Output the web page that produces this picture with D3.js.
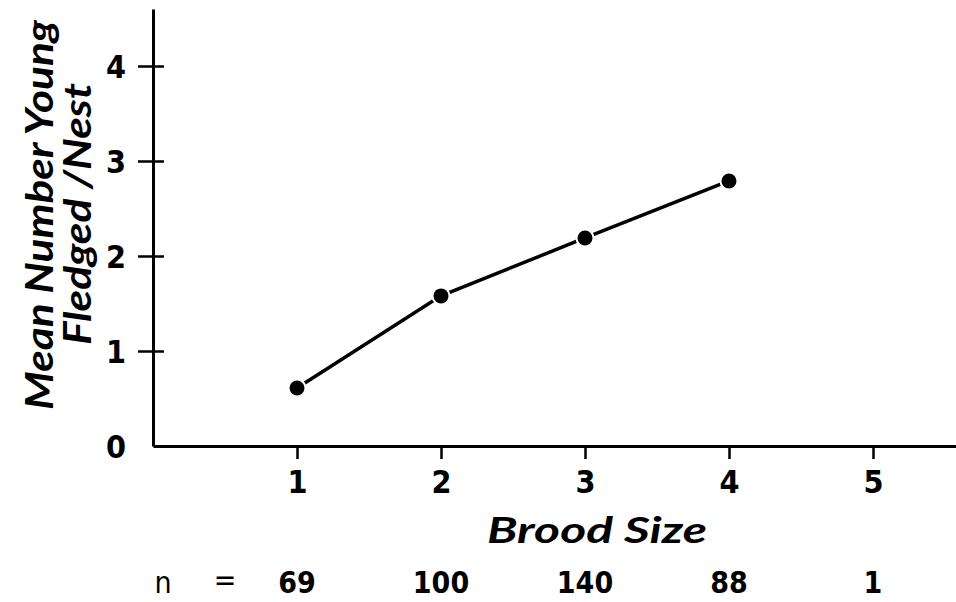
<!DOCTYPE html>
<html>
<head>
<meta charset="utf-8">
<script src="https://cdn.jsdelivr.net/npm/d3@7"></script>
<style>
  html, body { margin: 0; padding: 0; background: #fff; }
  svg { display: block; }
</style>
</head>
<body>
<svg id="chart" width="956" height="602"></svg>
<script>
// ---- Data ----
const broodSizes = [1, 2, 3, 4];
const meanFledged = [0.61, 1.58, 2.19, 2.79];
const xTickValues = [1, 2, 3, 4, 5];
const yTickValues = [0, 1, 2, 3, 4];
const sampleSizes = ["69", "100", "140", "88", "1"];
const xTitle = "Brood Size";
const yTitleLines = ["Mean Number Young", "Fledged /Nest"];

// ---- Layout ----
const svg = d3.select("#chart");
const font = "Lato, 'Open Sans', sans-serif";
const tickFont = "'Liberation Sans Narrow', 'DejaVu Sans Condensed', Lato, sans-serif";

const x = d3.scaleLinear().domain([0, 5.6]).range([153, 959.4]);
const y = d3.scaleLinear().domain([0, 4.6]).range([446, 9]);

// Y axis (cross ticks)
const yAxis = svg.append("g")
  .attr("transform", `translate(${x(0)},0)`)
  .call(d3.axisLeft(y).tickValues(yTickValues).tickSize(0).tickSizeOuter(0).tickFormat(d3.format("d")));
yAxis.select(".domain").attr("stroke", "#000").attr("stroke-width", 3);
yAxis.selectAll(".tick line").remove();
yAxis.selectAll(".tick")
  .filter(d => d !== 0)
  .append("line")
  .attr("x1", -15).attr("x2", 11)
  .attr("stroke", "#000").attr("stroke-width", 2.5);
yAxis.selectAll(".tick text")
  .attr("x", -27)
  .attr("dy", "0.36em")
  .attr("font-family", tickFont).attr("font-size", 32).attr("font-weight", 700)
  .attr("fill", "#000");

// X axis
const xAxis = svg.append("g")
  .attr("transform", `translate(0,${y(0)})`)
  .call(d3.axisBottom(x).tickValues(xTickValues).tickSize(13).tickSizeOuter(0).tickFormat(d3.format("d")));
xAxis.select(".domain").attr("stroke", "#000").attr("stroke-width", 3);
xAxis.selectAll(".tick line").attr("stroke", "#000").attr("stroke-width", 2.5);
xAxis.selectAll(".tick text")
  .attr("y", 47).attr("dy", null)
  .attr("font-family", tickFont).attr("font-size", 32).attr("font-weight", 700)
  .attr("fill", "#000");

// Line
const pts = broodSizes.map((b, i) => [x(b), y(meanFledged[i])]);
svg.append("path")
  .datum(pts)
  .attr("d", d3.line())
  .attr("fill", "none")
  .attr("stroke", "#000")
  .attr("stroke-width", 3.5);

// Dots with white halo (gap)
svg.selectAll("circle.pt")
  .data(pts)
  .join("circle")
  .attr("class", "pt")
  .attr("cx", d => d[0]).attr("cy", d => d[1])
  .attr("r", 7.5)
  .attr("fill", "#000")
  .attr("stroke", "#fff")
  .attr("stroke-width", 4)
  .attr("paint-order", "stroke");

// X title
svg.append("text")
  .attr("x", 597).attr("y", 543)
  .attr("text-anchor", "middle")
  .attr("font-family", font).attr("font-size", 37)
  .attr("font-weight", 700).attr("font-style", "italic")
  .attr("textLength", 220).attr("lengthAdjust", "spacingAndGlyphs")
  .text(xTitle);

// Y title (two rotated lines)
const yTitleX = [53, 91];
const yTitleLen = [390, 262];
yTitleLines.forEach((t, i) => {
  svg.append("text")
    .attr("transform", `translate(${yTitleX[i]},${i === 0 ? 215 : 214}) rotate(-90)`)
    .attr("text-anchor", "middle")
    .attr("font-family", font).attr("font-size", 38)
    .attr("font-weight", 700).attr("font-style", "italic")
    .attr("textLength", yTitleLen[i]).attr("lengthAdjust", "spacingAndGlyphs")
    .text(t);
});

// Sample sizes row
const nRow = svg.append("g").attr("font-family", tickFont).attr("font-size", 30)
  .attr("font-weight", 700).attr("fill", "#000");
nRow.append("text").attr("x", 163).attr("y", 593).attr("text-anchor", "middle")
  .attr("font-weight", 400).text("n");
nRow.append("text").attr("x", 225).attr("y", 590).attr("text-anchor", "middle")
  .attr("font-weight", 400).text("=");
nRow.selectAll("text.n")
  .data(sampleSizes)
  .join("text")
  .attr("class", "n")
  .attr("x", (d, i) => x(xTickValues[i]))
  .attr("y", 593)
  .attr("text-anchor", "middle")
  .text(d => d);
</script>
</body>
</html>
